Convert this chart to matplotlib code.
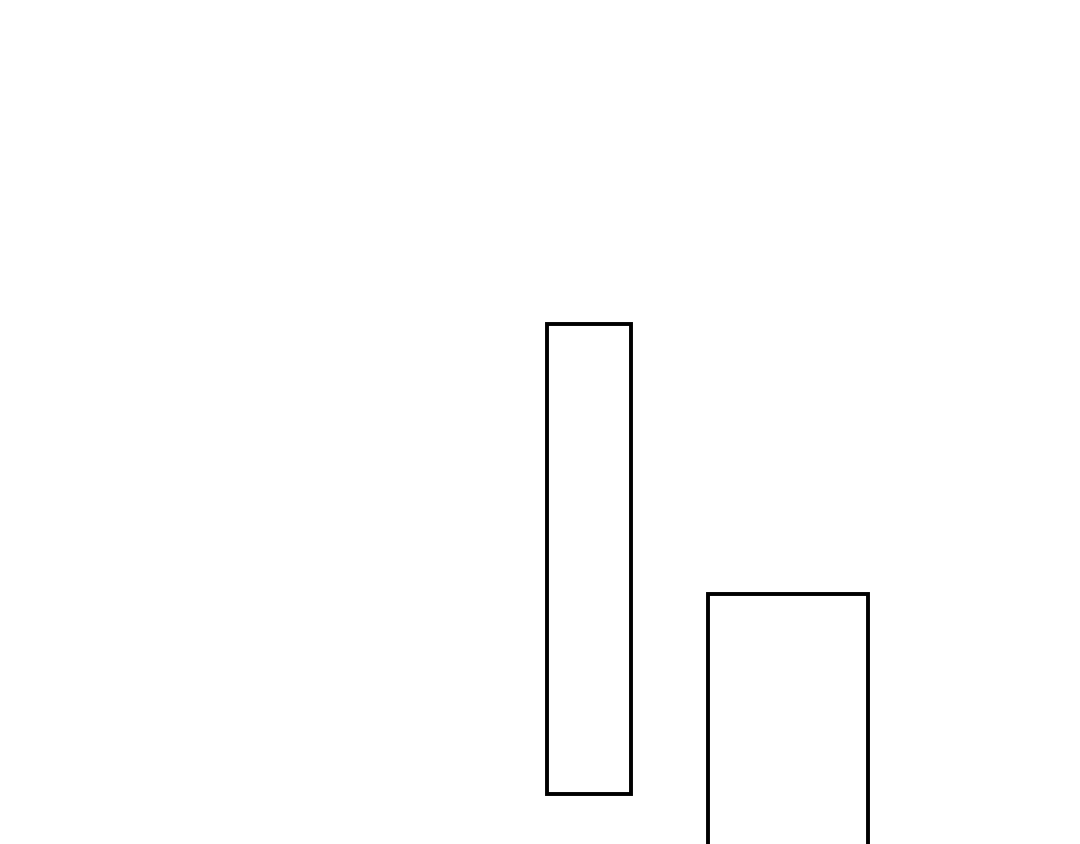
import matplotlib
matplotlib.use("Agg")
import matplotlib.pyplot as plt

# two outlined blocks, values in figure-pixel units from the bottom-left
bar_left = [547.3, 707.5]
bar_width = [83.7, 160.0]
bar_bottom = [50.0, -20.0]
bar_height = [470.5, 270.0]

fig = plt.figure(figsize=(10.8, 8.44), dpi=100)
ax = fig.add_axes([0, 0, 1, 1])

ax.bar(bar_left, bar_height, width=bar_width, bottom=bar_bottom, align="edge",
       facecolor="white", edgecolor="black", linewidth=2.8)

ax.set_xlim(0, 1080)
ax.set_ylim(0, 844)
ax.axis("off")

fig.savefig("out.png", dpi=100, facecolor="white")
plt.close(fig)
